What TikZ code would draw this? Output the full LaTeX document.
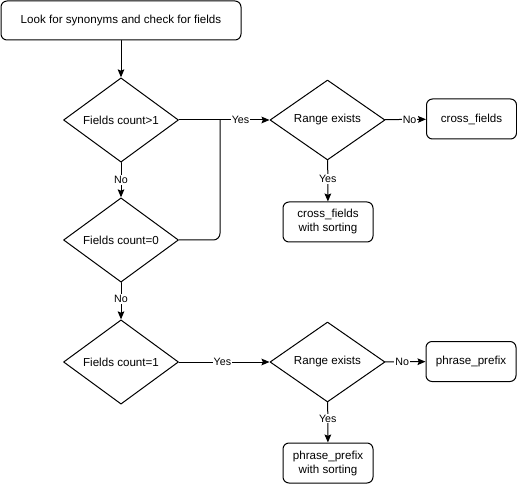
\documentclass[tikz,border=0pt]{standalone}
\usepackage{fontspec}
\setmainfont{Liberation Sans}
\usetikzlibrary{arrows.meta}
\usetikzlibrary{shapes.geometric}
\usetikzlibrary{positioning}

\begin{document}
\begin{tikzpicture}[line cap=round,line join=round, x=0.75pt, y=-0.75pt,
  every node/.style={font=\fontsize{8.7}{10.5}\selectfont},
  box/.style={draw, line width=0.75pt, rounded corners=4.5pt, minimum width=67.5pt, minimum height=30pt, align=center, inner sep=1pt},
  test/.style={draw, line width=0.75pt, diamond, minimum width=86.25pt, minimum height=60pt, inner sep=0pt},
  lbl/.style={fill=white, inner sep=0.8pt, font=\fontsize{8}{9}\selectfont},
  link/.style={-{Stealth[length=6pt, width=5pt, inset=1pt]}, line width=0.75pt}]
\useasboundingbox (0,0) rectangle (517,484);
% left column
\node[box, minimum width=180pt, minimum height=29.25pt] (start) at (121,20.5) {Look for synonyms and check for fields};
\node[test] (q1) at (121,120) {Fields count>1};
\node[test] (q2) at (121,240) {Fields count=0};
\node[test] (q3) at (121,362) {Fields count=1};
% range checks
\node[test] (r1) at (327.5,120) {Range exists};
\node[test] (r2) at (327.5,362) {Range exists};
% results
\node[box] (cf) at (471.5,119) {cross\_fields};
\node[box] (cfs) at (328,222) {cross\_fields\\with sorting};
\node[box] (pp) at (471,361.5) {phrase\_prefix};
\node[box] (pps) at (328,463) {phrase\_prefix\\with sorting};
\coordinate (join) at (220,120);

\draw[link] (start) -- (q1);
\draw[link] (q1) -- node[lbl]{No} (q2);
\draw[link] (q1) -- node[lbl, pos=0.68]{Yes} (r1);
\draw[line width=0.75pt, rounded corners=5pt] (q2.east) -| (join);
\draw[link] (q2) -- node[lbl, pos=0.45]{No} (q3);
\draw[link] (q3) -- node[lbl, pos=0.48]{Yes} (r2);
\draw[link] (r1) -- node[lbl, pos=0.6]{No} (cf);
\draw[link] (r1) -- node[lbl, pos=0.45]{Yes} (cfs);
\draw[link] (r2) -- node[lbl, pos=0.42]{No} (pp);
\draw[link] (r2) -- node[lbl, pos=0.4]{Yes} (pps);
\end{tikzpicture}
\end{document}
